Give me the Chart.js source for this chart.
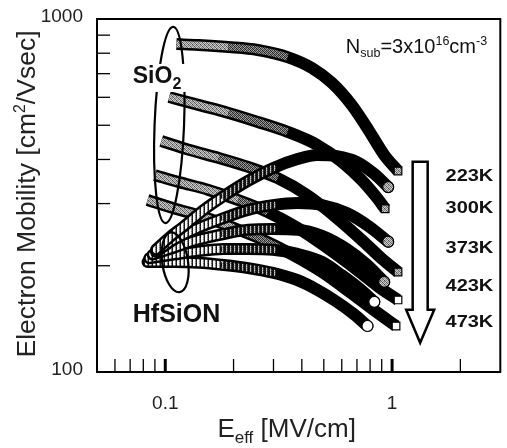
<!DOCTYPE html>
<html>
<head>
<meta charset="utf-8">
<script src="https://cdn.jsdelivr.net/npm/chart.js@4.4.1/dist/chart.umd.min.js"></script>
<style>
  html, body { margin: 0; padding: 0; background: #fff; }
  canvas { display: block; }
</style>
</head>
<body>
<canvas id="mobility" width="507" height="448"></canvas>
<script>
// Electron mobility vs. effective field, SiO2 and HfSiON, 223K..473K
const temps = ['223K', '300K', '373K', '423K', '473K'];

// SiO2 (square markers)
const sio2E_223 = [0.112, 0.140, 0.190, 0.256, 0.346, 0.444, 0.543, 0.663, 0.787, 0.923, 1.062];
const sio2Mu_223 = [849, 844, 833, 817, 780, 726, 659, 571, 485, 412, 371];
const sio2E_300 = [0.104, 0.140, 0.190, 0.256, 0.346, 0.467, 0.600, 0.733, 0.852, 0.932];
const sio2Mu_300 = [601, 571, 542, 511, 479, 440, 394, 350, 313, 290];
const sio2E_373 = [0.096, 0.127, 0.172, 0.232, 0.313, 0.423, 0.571, 0.733, 0.896, 1.062];
const sio2Mu_373 = [451, 426, 404, 381, 354, 317, 273, 237, 210, 192];
const sio2E_423 = [0.090, 0.115, 0.155, 0.210, 0.283, 0.383, 0.516, 0.698, 0.896, 1.062];
const sio2Mu_423 = [361, 345, 328, 307, 284, 256, 225, 195, 172, 160];
const sio2E_473 = [0.0835, 0.109, 0.148, 0.200, 0.269, 0.364, 0.491, 0.663, 0.852, 1.041];
const sio2Mu_473 = [307, 291, 275, 256, 237, 215, 192, 167, 148, 135];

// HfSiON (circle markers)
const hfE_223 = [0.091, 0.104, 0.121, 0.148, 0.181, 0.232, 0.298, 0.383, 0.467, 0.571, 0.698, 0.835, 0.961];
const hfMu_223 = [222, 240, 259, 288, 315, 348, 378, 401, 412, 409, 394, 364, 334];
const hfE_300 = [0.091, 0.109, 0.140, 0.181, 0.232, 0.298, 0.383, 0.491, 0.631, 0.787, 0.961];
const hfMu_300 = [219, 237, 256, 273, 288, 297, 301, 297, 282, 259, 234];
const hfE_373 = [0.088, 0.109, 0.140, 0.181, 0.232, 0.298, 0.383, 0.491, 0.631, 0.771, 0.923];
const hfMu_373 = [215, 225, 237, 246, 253, 254, 253, 243, 223, 202, 180];
const hfE_423 = [0.085, 0.109, 0.140, 0.181, 0.232, 0.298, 0.383, 0.491, 0.600, 0.712, 0.835];
const hfMu_423 = [210, 215, 220, 223, 223, 222, 216, 205, 188, 173, 158];
const hfE_473 = [0.0835, 0.109, 0.140, 0.181, 0.232, 0.298, 0.383, 0.467, 0.571, 0.677, 0.779];
const hfMu_473 = [205, 205, 204, 201, 197, 191, 182, 171, 158, 146, 135];

// axis ticks
const xMajorTicks = [0.1, 1];
const xTickLabels = ['0.1', '1'];
const xMinorTicks = [0.06, 0.07, 0.08, 0.09, 0.2, 0.3, 0.4, 0.5, 0.6, 0.7, 0.8, 0.9, 2];
const yTickValues = [100, 1000];
const yTickLabels = ['100', '1000'];
const yMinorTicks = [200, 300, 400, 500, 600, 700, 800, 900];

// annotation anchors (field, mobility)
const tempLabelE = 1.72;
const tempLabelMu = [357, 290, 223, 175, 138];
const arrowE = 1.33;
const arrowTopMu = 394;
const arrowHeadMu = 150;
const arrowTipMu = 121;
const sio2Ring = { e0: 0.0897, e1: 0.121, mu0: 264, mu1: 950 };
const hfRing = { e0: 0.097, e1: 0.126, mu0: 168, mu1: 249 };

const FONT = '"Liberation Sans", Arial, Helvetica, sans-serif';

const canvas = document.getElementById('mobility');
const ctx2d = canvas.getContext('2d');

function makePattern(rows) {
    const off = document.createElement('canvas');
    off.width = rows[0].length;
    off.height = rows.length;
    const c = off.getContext('2d');
    rows.forEach((row, y) => row.forEach((g, x) => {
        c.fillStyle = `rgb(${g},${g},${g})`;
        c.fillRect(x, y, 1, 1);
    }));
    return ctx2d.createPattern(off, 'repeat');
}

const squareLight = makePattern([
    [70, 190, 140, 210],
    [170, 100, 210, 140],
    [140, 210, 80, 190],
    [210, 140, 190, 100]
]);
const squareDark = makePattern([
    [30, 140, 60, 170],
    [120, 40, 160, 70],
    [60, 170, 30, 140],
    [160, 70, 120, 40]
]);
const ringLight = makePattern([
    [20, 235, 255, 150],
    [20, 255, 235, 120],
    [40, 235, 255, 150],
    [20, 255, 240, 110]
]);
const ringDark = makePattern([
    [10, 10, 200, 60],
    [10, 30, 160, 40],
    [20, 10, 210, 60],
    [10, 40, 150, 30]
]);

function toPoints(es, mus) {
    return es.map((e, i) => ({ x: e, y: mus[i] }));
}

const curves = [
    { kind: 'hf', data: toPoints(hfE_223, hfMu_223), end: squareLight },
    { kind: 'hf', data: toPoints(hfE_300, hfMu_300), end: squareLight },
    { kind: 'hf', data: toPoints(hfE_373, hfMu_373), end: squareLight },
    { kind: 'hf', data: toPoints(hfE_423, hfMu_423), end: '#fff' },
    { kind: 'hf', data: toPoints(hfE_473, hfMu_473), end: '#fff' },
    { kind: 'sio2', data: toPoints(sio2E_223, sio2Mu_223), end: squareLight },
    { kind: 'sio2', data: toPoints(sio2E_300, sio2Mu_300), end: squareLight },
    { kind: 'sio2', data: toPoints(sio2E_373, sio2Mu_373), end: squareLight },
    { kind: 'sio2', data: toPoints(sio2E_423, sio2Mu_423), end: '#fff' },
    { kind: 'sio2', data: toPoints(sio2E_473, sio2Mu_473), end: '#fff' }
];

// each curve = textured core on top of a thick black band
const datasets = [];
curves.forEach(c => {
    const last = c.data.length - 1;
    const light = c.kind === 'sio2' ? squareLight : ringLight;
    const dark = c.kind === 'sio2' ? squareDark : ringDark;
    datasets.push({
        data: c.data,
        borderWidth: 7,
        borderColor: light,
        borderCapStyle: c.kind === 'sio2' ? 'butt' : 'round',
        cubicInterpolationMode: 'monotone',
        pointRadius: 0,
        segment: {
            borderColor: s => {
                const x = s.p0.parsed.x;
                if (x < 0.17) return light;
                if (x < 0.28) return dark;
                return 'rgba(0,0,0,0)';
            }
        }
    });
    datasets.push({
        data: c.data,
        borderWidth: 12,
        borderColor: '#000',
        borderCapStyle: c.kind === 'sio2' ? 'butt' : 'round',
        cubicInterpolationMode: 'monotone',
        pointStyle: c.kind === 'sio2' ? 'rect' : 'circle',
        pointRadius: s => (s.dataIndex === last ? (c.kind === 'sio2' ? 5.4 : 5.5) : 0),
        pointBackgroundColor: c.end,
        pointBorderColor: '#000',
        pointBorderWidth: 1.2
    });
});

function drawParts(ctx, parts, x, y, align) {
    // parts: [text, sizePx, dy, bold]
    let total = 0;
    parts.forEach(p => {
        ctx.font = `${p[3] ? 'bold ' : ''}${p[1]}px ${FONT}`;
        total += ctx.measureText(p[0]).width;
    });
    let cx = align === 'center' ? x - total / 2 : align === 'right' ? x - total : x;
    ctx.textAlign = 'left';
    ctx.textBaseline = 'alphabetic';
    parts.forEach(p => {
        ctx.font = `${p[3] ? 'bold ' : ''}${p[1]}px ${FONT}`;
        ctx.fillText(p[0], cx, y + p[2]);
        cx += ctx.measureText(p[0]).width;
    });
    return total;
}

function ellipseFromBox(ctx, xs, ys, box, tilt) {
    const l = xs.getPixelForValue(box.e0), r = xs.getPixelForValue(box.e1);
    const t = ys.getPixelForValue(box.mu1), b = ys.getPixelForValue(box.mu0);
    ctx.beginPath();
    ctx.ellipse((l + r) / 2, (t + b) / 2, (r - l) / 2, (b - t) / 2, tilt, 0, Math.PI * 2);
    ctx.stroke();
}

const decorations = {
    id: 'decorations',
    afterDatasetsDraw(chart) {
        const { ctx, chartArea: a, scales: { x: xs, y: ys } } = chart;
        ctx.save();
        ctx.fillStyle = '#111';
        ctx.strokeStyle = '#000';

        // group rings
        ctx.lineWidth = 2.2;
        ellipseFromBox(ctx, xs, ys, sio2Ring, 0.04);
        ellipseFromBox(ctx, xs, ys, hfRing, -0.15);

        // group labels
        const labelX = xs.getPixelForValue(0.0719);
        ctx.fillStyle = '#fff';
        ctx.fillRect(labelX - 2, ys.getPixelForValue(659) - 19, 56, 28);
        ctx.fillStyle = '#111';
        drawParts(ctx, [['SiO', 23, 0, true], ['2', 16, 6, true]], labelX, ys.getPixelForValue(659), 'left');
        drawParts(ctx, [['HfSiON', 25, 0, true]], labelX, ys.getPixelForValue(138.6), 'left');

        // substrate doping
        drawParts(ctx, [['N', 20, 0], ['sub', 12.5, 4], ['=3x10', 20, 0], ['16', 12.5, -8], ['cm', 20, 0], ['-3', 12.5, -8]],
            xs.getPixelForValue(0.625), ys.getPixelForValue(800), 'left');

        // temperature arrow
        const ax = xs.getPixelForValue(arrowE);
        const top = ys.getPixelForValue(arrowTopMu);
        const hb = ys.getPixelForValue(arrowHeadMu);
        const tip = ys.getPixelForValue(arrowTipMu);
        const sw = 7.5, hw = 14;
        ctx.beginPath();
        ctx.moveTo(ax - sw, top);
        ctx.lineTo(ax + sw, top);
        ctx.lineTo(ax + sw, hb);
        ctx.lineTo(ax + hw, hb);
        ctx.lineTo(ax, tip);
        ctx.lineTo(ax - hw, hb);
        ctx.lineTo(ax - sw, hb);
        ctx.closePath();
        ctx.fillStyle = '#fff';
        ctx.fill();
        ctx.lineWidth = 2.5;
        ctx.lineJoin = 'miter';
        ctx.stroke();

        // temperature labels, set slightly wide
        ctx.fillStyle = '#111';
        ctx.font = `bold 16px ${FONT}`;
        ctx.textAlign = 'left';
        ctx.textBaseline = 'middle';
        temps.forEach((t, i) => {
            ctx.save();
            ctx.translate(xs.getPixelForValue(tempLabelE), ys.getPixelForValue(tempLabelMu[i]));
            ctx.scale(1.25, 1);
            ctx.fillText(t, 0, 0);
            ctx.restore();
        });

        // frame
        ctx.lineWidth = 2;
        ctx.strokeRect(a.left, a.top, a.right - a.left, a.bottom - a.top);

        // inward ticks
        ctx.lineWidth = 1.3;
        yMinorTicks.forEach(v => {
            const py = ys.getPixelForValue(v);
            ctx.beginPath();
            ctx.moveTo(a.left, py);
            ctx.lineTo(a.left + 13, py);
            ctx.stroke();
        });
        xMinorTicks.forEach(v => {
            const px = xs.getPixelForValue(v);
            ctx.beginPath();
            ctx.moveTo(px, a.bottom);
            ctx.lineTo(px, a.bottom - 13);
            ctx.stroke();
        });
        ctx.lineWidth = 3;
        xMajorTicks.forEach(v => {
            const px = xs.getPixelForValue(v);
            ctx.beginPath();
            ctx.moveTo(px, a.bottom);
            ctx.lineTo(px, a.bottom - 13);
            ctx.stroke();
        });

        // tick labels
        ctx.fillStyle = '#222';
        ctx.font = `19px ${FONT}`;
        ctx.textAlign = 'center';
        ctx.textBaseline = 'top';
        xMajorTicks.forEach((v, i) => ctx.fillText(xTickLabels[i], xs.getPixelForValue(v), a.bottom + 22));
        ctx.textAlign = 'right';
        ctx.textBaseline = 'middle';
        yTickValues.forEach((v, i) => ctx.fillText(yTickLabels[i], a.left - 14, ys.getPixelForValue(v) - 2));

        // axis titles
        drawParts(ctx, [['E', 26, 0], ['eff', 17, 6], [' [MV/cm]', 26, 0]], (a.left + a.right) / 2 - 12, a.bottom + 65, 'center');
        ctx.save();
        ctx.translate(a.left - 62, 194);
        ctx.rotate(-Math.PI / 2);
        drawParts(ctx, [['Electron Mobility [cm', 26.5, 0], ['2', 16, -10], ['/Vsec]', 26.5, 0]], 0, 0, 'center');
        ctx.restore();

        ctx.restore();
    }
};

new Chart(canvas, {
    type: 'line',
    data: { datasets },
    options: {
        responsive: false,
        animation: false,
        devicePixelRatio: 1,
        layout: { padding: { left: 97, top: 19, right: 2, bottom: 76 } },
        plugins: { legend: { display: false }, tooltip: { enabled: false } },
        scales: {
            x: { type: 'logarithmic', min: 0.05, max: 3, display: false },
            y: { type: 'logarithmic', min: 100, max: 1000, display: false }
        }
    },
    plugins: [decorations]
});
</script>
</body>
</html>
